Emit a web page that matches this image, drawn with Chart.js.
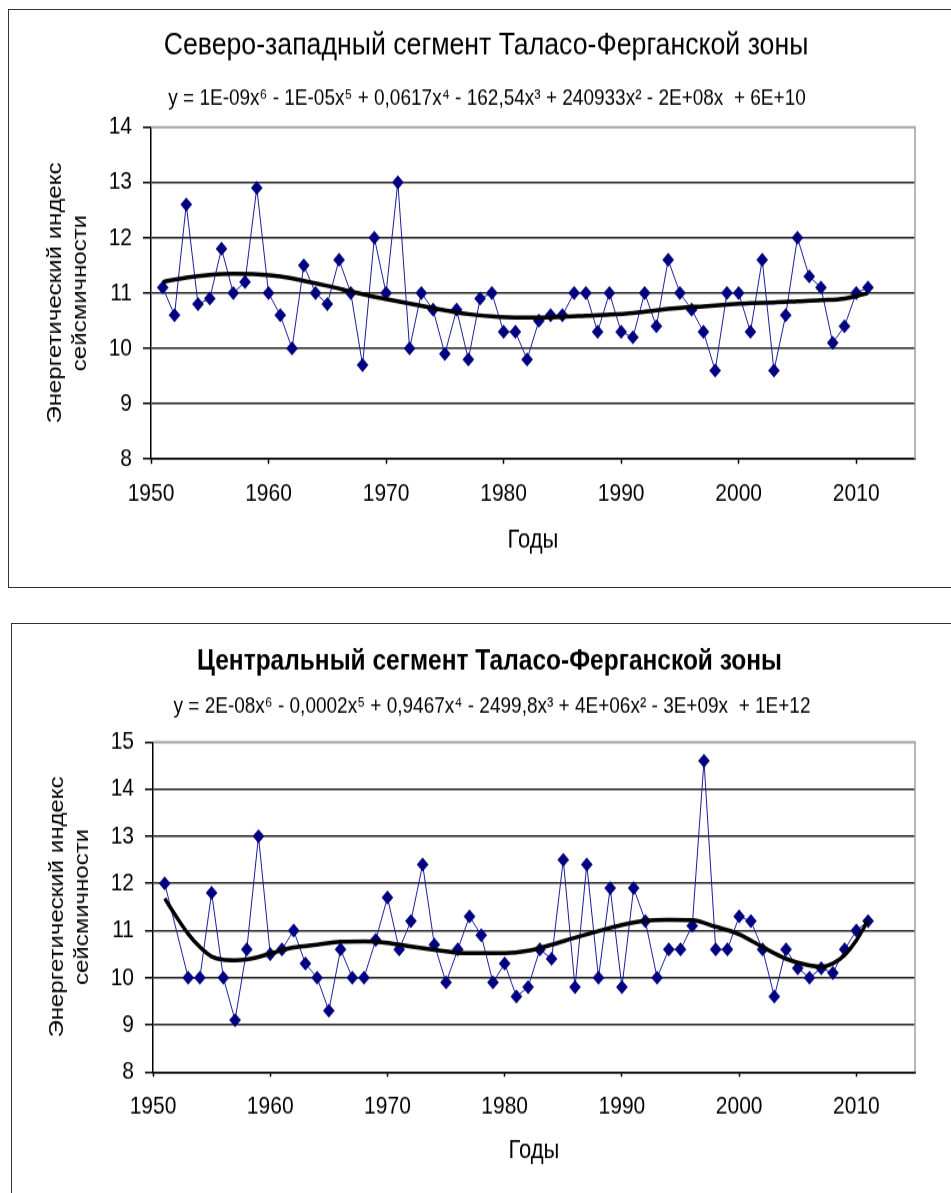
<!DOCTYPE html>
<html>
<head>
<meta charset="utf-8">
<script src="https://cdn.jsdelivr.net/npm/chart.js@4.4.0/dist/chart.umd.min.js"></script>
<style>
  html, body { margin: 0; padding: 0; background: #fff; width: 951px; height: 1193px; overflow: hidden; }
  .frame { position: absolute; border: 1px solid #333; background: #fff; }
  #f1 { left: 8px; top: 9px; width: 960px; height: 577px; }
  #f2 { left: 11px; top: 623px; width: 960px; height: 600px; }
  canvas { position: absolute; left: 0; top: 0; transform-origin: 0 0; transform: scaleY(1.2); }
</style>
</head>
<body>
<div class="frame" id="f1"><canvas id="c1" width="942" height="481"></canvas></div>
<div class="frame" id="f2"><canvas id="c2" width="939" height="474"></canvas></div>
<script>
// годы наблюдений
const years = [];
for (let y = 1951; y <= 2011; y++) years.push(y);

// Северо-западный сегмент
const nwValues = [
  11.1, 10.6, 12.6, 10.8, 10.9, 11.8, 11.0, 11.2, 12.9, 11.0,
  10.6, 10.0, 11.5, 11.0, 10.8, 11.6, 11.0, 9.7, 12.0, 11.0,
  13.0, 10.0, 11.0, 10.7, 9.9, 10.7, 9.8, 10.9, 11.0, 10.3,
  10.3, 9.8, 10.5, 10.6, 10.6, 11.0, 11.0, 10.3, 11.0, 10.3,
  10.2, 11.0, 10.4, 11.6, 11.0, 10.7, 10.3, 9.6, 11.0, 11.0,
  10.3, 11.6, 9.6, 10.6, 12.0, 11.3, 11.1, 10.1, 10.4, 11.0,
  11.1
];
const nwTrendYears = [1951, 1953, 1955, 1957, 1959, 1961, 1963, 1965, 1967, 1969, 1971, 1973, 1975, 1977, 1979, 1981,
  1983, 1985, 1987, 1989, 1991, 1993, 1995, 1997, 1999, 2001, 2003, 2005, 2007, 2009, 2011];
const nwTrend = [11.2, 11.28, 11.33, 11.35, 11.34, 11.3, 11.22, 11.13, 11.03, 10.93, 10.85, 10.77, 10.69, 10.62, 10.58, 10.56,
  10.56, 10.57, 10.59, 10.61, 10.64, 10.69, 10.73, 10.76, 10.79, 10.82, 10.83, 10.85, 10.87, 10.9, 11.0];

// Центральный сегмент (1952 нет точки)
const cValues = [
  12.0, null, 10.0, 10.0, 11.8, 10.0, 9.1, 10.6, 13.0, 10.5,
  10.6, 11.0, 10.3, 10.0, 9.3, 10.6, 10.0, 10.0, 10.8, 11.7,
  10.6, 11.2, 12.4, 10.7, 9.9, 10.6, 11.3, 10.9, 9.9, 10.3,
  9.6, 9.8, 10.6, 10.4, 12.5, 9.8, 12.4, 10.0, 11.9, 9.8,
  11.9, 11.2, 10.0, 10.6, 10.6, 11.1, 14.6, 10.6, 10.6, 11.3,
  11.2, 10.6, 9.6, 10.6, 10.2, 10.0, 10.2, 10.1, 10.6, 11.0,
  11.2
];
const cTrendYears = [1951, 1952, 1953, 1954, 1955, 1956, 1957, 1958, 1959, 1960, 1962, 1964, 1966, 1968, 1970, 1972,
  1974, 1976, 1978, 1980, 1982, 1984, 1986, 1988, 1990, 1992, 1994, 1996, 1998, 2000, 2002, 2004, 2006, 2007, 2008,
  2009, 2010, 2011];
const cTrend = [11.68, 11.29, 10.93, 10.65, 10.45, 10.38, 10.37, 10.39, 10.44, 10.51, 10.64, 10.7, 10.76, 10.77, 10.74, 10.66,
  10.59, 10.53, 10.52, 10.52, 10.57, 10.7, 10.85, 10.99, 11.12, 11.21, 11.23, 11.22, 11.08, 10.92, 10.65, 10.4, 10.26, 10.23, 10.3,
  10.48, 10.79, 11.22];

const xTitle = "Годы";
const yTitle = ["Энергетический индекс", "сейсмичности"];
const FONT = "'Liberation Sans', Arial, sans-serif";

// серая рамка области построения (верх и право)
const plotFrame = {
  id: "plotFrame",
  beforeDatasetsDraw(chart) {
    const a = chart.chartArea;
    const c = chart.ctx;
    c.save();
    c.strokeStyle = "#a0a0a0";
    c.lineWidth = 1.5;
    c.beginPath();
    c.moveTo(a.left, a.top);
    c.lineTo(a.right, a.top);
    c.lineTo(a.right, a.bottom);
    c.stroke();
    c.restore();
  }
};

// заголовок и уравнение тренда, центрированные по всей диаграмме Excel
const headings = {
  id: "headings",
  afterDraw(chart, args, opts) {
    const c = chart.ctx;
    c.save();
    c.fillStyle = "#000";
    c.textAlign = "center";
    c.textBaseline = "middle";
    for (const t of opts.items || []) {
      c.font = t.font;
      c.fillText(t.text, t.x, t.y);
    }
    c.restore();
  }
};

function toPoints(xs, ys) {
  return xs.map((x, i) => ({ x: x, y: ys[i] }));
}

function makeChart(id, o) {
  return new Chart(document.getElementById(id), {
    type: "scatter",
    data: {
      datasets: [
        {
          data: toPoints(o.trendYears, o.trend),
          showLine: true,
          borderColor: "#000",
          borderWidth: 3.5,
          pointRadius: 0,
          cubicInterpolationMode: "monotone",
        },
        {
          data: toPoints(years, o.values),
          showLine: true,
          spanGaps: true,
          borderColor: "#1c1c9a",
          borderWidth: 1,
          pointStyle: "rectRot",
          pointRadius: 5.6,
          pointBackgroundColor: "#000080",
          pointBorderColor: "#000080",
          pointBorderWidth: 0.5,
        },
      ],
    },
    options: {
      responsive: false,
      animation: false,
      devicePixelRatio: 1,
      events: [],
      layout: { padding: { left: 0, right: 36, top: o.padTop, bottom: 0 } },
      plugins: {
        legend: { display: false },
        tooltip: { enabled: false },
        headings: {
          items: [
            { text: o.title, font: o.titleFont, x: o.headX, y: o.titleY },
            { text: o.equation, font: "19px " + FONT, x: o.eqX, y: o.eqY },
          ],
        },
      },
      scales: {
        x: {
          type: "linear",
          min: 1950,
          max: 2015,
          afterFit: (s) => { s.height = o.xAxisHeight; },
          ticks: { stepSize: 10, includeBounds: false, color: "#000", padding: 12,
            font: { family: FONT, size: 21 }, callback: (v) => String(v) },
          grid: { drawOnChartArea: false, drawTicks: true, tickLength: 4, tickColor: "#000", tickWidth: 1.5 },
          border: { color: "#000", width: 1.5 },
          title: { display: true, text: xTitle, color: "#000",
            font: { family: FONT, size: 22, lineHeight: 1.2 }, padding: { top: 0, bottom: o.xTitlePad } },
        },
        y: {
          min: 8,
          max: o.yMax,
          afterFit: (s) => { s.width = o.yAxisWidth; },
          ticks: { stepSize: 1, color: "#000", padding: 11, font: { family: FONT, size: 21 } },
          grid: {
            color: (ctx) => (ctx.tick && ctx.tick.value === o.yMax ? "#a0a0a0" : "#222"),
            lineWidth: 1.5,
            tickLength: 8,
            tickColor: "#000",
            tickWidth: 1.5,
          },
          border: { color: "#000", width: 1.5 },
          title: { display: true, text: yTitle, color: "#000",
            font: { family: FONT, size: 20, lineHeight: 1.25 }, padding: { top: o.yTitlePad, bottom: 0 } },
        },
      },
    },
    plugins: [plotFrame, headings],
  });
}

makeChart("c1", {
  title: "Северо-западный сегмент Таласо-Ферганской зоны",
  titleFont: "26.7px " + FONT,
  headX: 477,
  titleY: 29.2,
  equation: "y = 1E-09x\u2076 - 1E-05x\u2075 + 0,0617x\u2074 - 162,54x\u00B3 + 240933x\u00B2 - 2E+08x  + 6E+10",
  eqX: 478,
  eqY: 73.3,
  padTop: 97.5,
  values: nwValues,
  trendYears: nwTrendYears,
  trend: nwTrend,
  yMax: 14,
  xAxisHeight: 106.8,
  yAxisWidth: 142,
  xTitlePad: 26,
  yTitlePad: 33.5,
});

makeChart("c2", {
  title: "Центральный сегмент Таласо-Ферганской зоны",
  titleFont: "bold 24.5px " + FONT,
  headX: 477.5,
  titleY: 31.7,
  equation: "y = 2E-08x\u2076 - 0,0002x\u2075 + 0,9467x\u2074 - 2499,8x\u00B3 + 4E+06x\u00B2 - 3E+09x  + 1E+12",
  eqX: 480,
  eqY: 68.3,
  padTop: 98.3,
  values: cValues,
  trendYears: cTrendYears,
  trend: cTrend,
  yMax: 15,
  xAxisHeight: 100.7,
  yAxisWidth: 141,
  xTitlePad: 21.4,
  yTitlePad: 32.5,
});
</script>
</body>
</html>
